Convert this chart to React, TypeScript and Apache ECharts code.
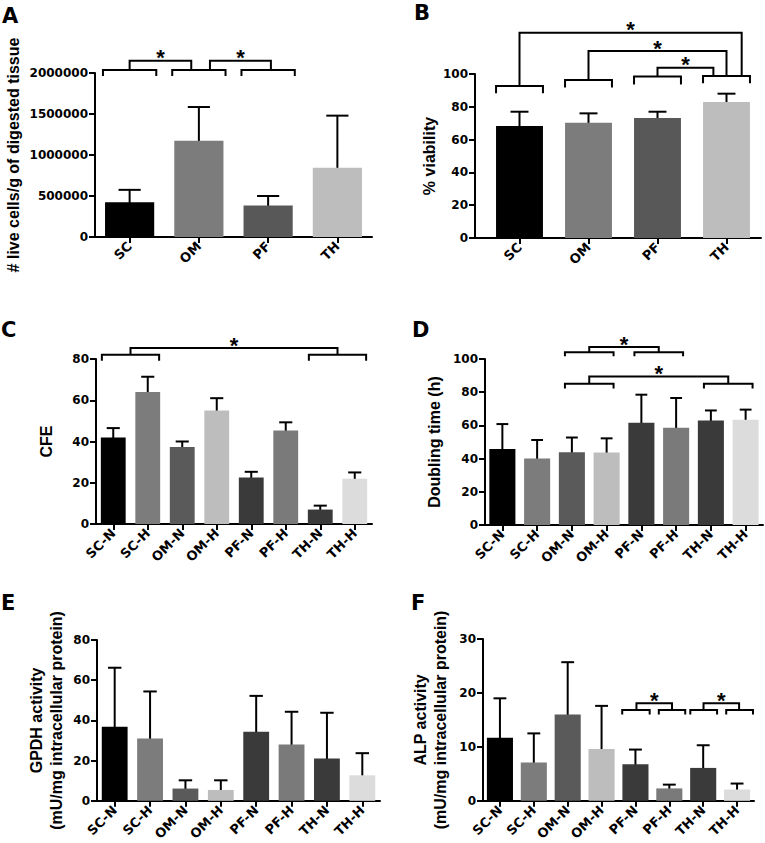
import React, { useEffect, useRef } from 'react';
import * as echarts from 'echarts';

// ---------- categories ----------
const groups4 = ['SC', 'OM', 'PF', 'TH'];
const groups8 = ['SC-N', 'SC-H', 'OM-N', 'OM-H', 'PF-N', 'PF-H', 'TH-N', 'TH-H'];

// ---------- values (mean) and upper error bar ends ----------
const aValues = [425000, 1175000, 385000, 845000];
const aErrors = [575000, 1585000, 500000, 1480000];
const bValues = [68.3, 70.2, 73.2, 83];
const bErrors = [77, 76, 77, 88];
const cValues = [42, 64, 37.3, 55, 22.6, 45.3, 7, 22];
const cErrors = [46.5, 71.4, 40, 61, 25.3, 49.3, 8.9, 25];
const dValues = [45.8, 40, 43.8, 43.6, 61.6, 58.6, 63, 63.4];
const dErrors = [60.8, 51.2, 52.7, 52.2, 78.5, 76.5, 69, 69.5];
const eValues = [36.8, 31, 6.1, 5.4, 34.3, 28, 21, 12.7];
const eErrors = [66.2, 54.4, 10.2, 10.2, 52.2, 44.3, 43.8, 23.7];
const fValues = [11.7, 7.1, 16, 9.6, 6.8, 2.3, 6.1, 2.1];
const fErrors = [19, 12.5, 25.7, 17.6, 9.5, 3.0, 10.3, 3.2];

// ---------- colours ----------
const colors4 = ['#000000', '#7c7c7c', '#585858', '#bdbdbd'];
const colors8 = ['#000000', '#7c7c7c', '#5a5a5a', '#bdbdbd', '#3a3a3a', '#7a7a7a', '#3a3a3a', '#dcdcdc'];

// ---------- axis names ----------
const aName = '# live cells/g of digested tissue';
const bName = '% viability';
const cName = 'CFE';
const dName = 'Doubling time (h)';
const eName = 'GPDH activity\n(mU/mg intracellular protein)';
const fName = 'ALP activity\n(mU/mg intracellular protein)';

// ---------- significance brackets (category units, data units) ----------
type Cap = { x1: number; x2: number; y: number; drop: number };
type Link = { x1: number; x2: number; y1: number; y2: number; top: number };

const aCaps: Cap[] = [
  { x1: -0.385, x2: 0.385, y: 2037000, drop: 74000 },
  { x1: 0.615, x2: 1.385, y: 2037000, drop: 74000 },
  { x1: 1.615, x2: 2.385, y: 2037000, drop: 74000 },
];
const aLinks: Link[] = [
  { x1: 0, x2: 0.89, y1: 2037000, y2: 2037000, top: 2150000 },
  { x1: 1.16, x2: 2.04, y1: 2037000, y2: 2037000, top: 2150000 },
];
const bCaps: Cap[] = [
  { x1: -0.34, x2: 0.34, y: 92.7, drop: 4.5 },
  { x1: 0.66, x2: 1.34, y: 96.3, drop: 4.5 },
  { x1: 1.66, x2: 2.34, y: 98.4, drop: 4.8 },
  { x1: 2.66, x2: 3.34, y: 98.8, drop: 4.5 },
];
const bLinks: Link[] = [
  { x1: 0, x2: 3.22, y1: 92.7, y2: 98.8, top: 125.2 },
  { x1: 1, x2: 3.0, y1: 96.3, y2: 98.8, top: 114 },
  { x1: 2, x2: 2.81, y1: 98.4, y2: 98.8, top: 103.8 },
];
const cCaps: Cap[] = [
  { x1: -0.33, x2: 1.33, y: 82.1, drop: 2.9 },
  { x1: 5.67, x2: 7.33, y: 82.1, drop: 2.9 },
];
const cLinks: Link[] = [{ x1: 0.5, x2: 6.5, y1: 82.1, y2: 82.1, top: 85.3 }];
const dCaps: Cap[] = [
  { x1: 1.8, x2: 3.2, y: 104, drop: 2.4 },
  { x1: 3.8, x2: 5.2, y: 104, drop: 2.4 },
  { x1: 1.8, x2: 3.2, y: 85.1, drop: 2.8 },
  { x1: 5.8, x2: 7.2, y: 85.1, drop: 2.8 },
];
const dLinks: Link[] = [
  { x1: 2.5, x2: 4.5, y1: 104, y2: 104, top: 107.2 },
  { x1: 2.5, x2: 6.5, y1: 85.1, y2: 85.1, top: 89.5 },
];
const fCaps: Cap[] = [
  { x1: 3.61, x2: 4.42, y: 16.85, drop: 0.85 },
  { x1: 4.69, x2: 5.47, y: 16.85, drop: 0.85 },
  { x1: 5.62, x2: 6.41, y: 16.85, drop: 0.85 },
  { x1: 6.68, x2: 7.47, y: 16.85, drop: 0.85 },
];
const fLinks: Link[] = [
  { x1: 4.03, x2: 5.08, y1: 16.85, y2: 16.85, top: 18.07 },
  { x1: 6.01, x2: 7.06, y1: 16.85, y2: 16.85, top: 18.07 },
];

const LABEL_FONT = 'DejaVu Sans';
const NAME_FONT = 'Liberation Sans';

interface Panel {
  letter: string;
  letterPos: [number, number];
  grid: { left: number; top: number; width: number; height: number };
  cats: string[];
  values: number[];
  errors: number[];
  colors: string[];
  max: number;
  interval: number;
  name: string;
  nameGap: number;
  barWidth: string;
  capFrac: number;
  caps: Cap[];
  links: Link[];
  axisOffset: number;
}

const panels: Panel[] = [
  {
    letter: 'A', letterPos: [2, 5], grid: { left: 95, top: 73, width: 277, height: 164 },
    cats: groups4, values: aValues, errors: aErrors, colors: colors4, max: 2000000, interval: 500000,
    name: aName, nameGap: 72, barWidth: '71%', capFrac: 0.32, caps: aCaps, links: aLinks, axisOffset: 0,
  },
  {
    letter: 'B', letterPos: [414, 2], grid: { left: 485, top: 74, width: 276, height: 164 },
    cats: groups4, values: bValues, errors: bErrors, colors: colors4, max: 100, interval: 20,
    name: bName, nameGap: 26, barWidth: '68%', capFrac: 0.26, caps: bCaps, links: bLinks, axisOffset: 10,
  },
  {
    letter: 'C', letterPos: [1, 319], grid: { left: 96, top: 359, width: 276, height: 165 },
    cats: groups8, values: cValues, errors: cErrors, colors: colors8, max: 80, interval: 20,
    name: cName, nameGap: 40, barWidth: '72%', capFrac: 0.38, caps: cCaps, links: cLinks, axisOffset: 0,
  },
  {
    letter: 'D', letterPos: [412, 319], grid: { left: 485, top: 359, width: 278, height: 166 },
    cats: groups8, values: dValues, errors: dErrors, colors: colors8, max: 100, interval: 20,
    name: dName, nameGap: 41, barWidth: '75%', capFrac: 0.34, caps: dCaps, links: dLinks, axisOffset: 0,
  },
  {
    letter: 'E', letterPos: [1, 592], grid: { left: 97, top: 640, width: 283, height: 164 },
    cats: groups8, values: eValues, errors: eErrors, colors: colors8, max: 80, interval: 20,
    name: eName, nameGap: 31, barWidth: '73%', capFrac: 0.38, caps: [], links: [], axisOffset: 0,
  },
  {
    letter: 'F', letterPos: [411, 592], grid: { left: 483, top: 639, width: 271, height: 164 },
    cats: groups8, values: fValues, errors: fErrors, colors: colors8, max: 30, interval: 10,
    name: fName, nameGap: 33, barWidth: '77%', capFrac: 0.38, caps: fCaps, links: fLinks, axisOffset: 0,
  },
];

const black = { color: '#000', width: 2 };

function buildOption(): any {
  const grid: any[] = [];
  const xAxis: any[] = [];
  const yAxis: any[] = [];
  const series: any[] = [];
  const graphic: any[] = [];

  panels.forEach((p, k) => {
    grid.push({ ...p.grid, containLabel: false });
    xAxis.push({
      type: 'category',
      gridIndex: k,
      data: p.cats,
      axisLine: { show: true, lineStyle: black },
      axisTick: { show: true, alignWithLabel: true, length: 6, lineStyle: black },
      axisLabel: {
        rotate: 45, margin: 7, interval: 0, color: '#000',
        fontFamily: LABEL_FONT, fontWeight: 'bold', fontSize: 13,
      },
      splitLine: { show: false },
    });
    yAxis.push({
      type: 'value',
      gridIndex: k,
      min: 0,
      max: p.max,
      interval: p.interval,
      offset: p.axisOffset,
      name: p.name,
      nameLocation: 'middle',
      nameRotate: 90,
      nameGap: p.nameGap,
      nameTextStyle: { fontFamily: NAME_FONT, fontWeight: 'bold', fontSize: 16, color: '#000', lineHeight: 20 },
      axisLine: { show: true, lineStyle: black },
      axisTick: { show: true, length: 6, lineStyle: black },
      axisLabel: {
        margin: 7, color: '#000', fontFamily: LABEL_FONT, fontWeight: 'bold', fontSize: 12,
        formatter: (v: number) => String(v),
      },
      splitLine: { show: false },
    });
    series.push({
      type: 'bar',
      xAxisIndex: k,
      yAxisIndex: k,
      barWidth: p.barWidth,
      silent: true,
      data: p.values.map((v, i) => ({ value: v, itemStyle: { color: p.colors[i] } })),
    });
    // error bars
    series.push({
      type: 'custom',
      xAxisIndex: k,
      yAxisIndex: k,
      clip: false,
      silent: true,
      data: p.errors.map((e, i) => [i, e]),
      renderItem: (params: any, api: any) => {
        const i = params.dataIndex;
        const p1 = api.coord([i, p.values[i]]);
        const p2 = api.coord([i, p.errors[i]]);
        const bw = api.size([1, 0])[0];
        const h = (bw * p.capFrac) / 2;
        return {
          type: 'group',
          children: [
            { type: 'line', shape: { x1: p1[0], y1: p1[1] + 3, x2: p2[0], y2: p2[1] }, style: { stroke: '#000', lineWidth: 2 } },
            { type: 'line', shape: { x1: p2[0] - h, y1: p2[1], x2: p2[0] + h, y2: p2[1] }, style: { stroke: '#000', lineWidth: 2 } },
          ],
        };
      },
    });
    if (p.caps.length) {
      series.push({
        type: 'custom',
        xAxisIndex: k,
        yAxisIndex: k,
        clip: false,
        silent: true,
        data: p.caps.map((c) => [0, c.y]),
        renderItem: (params: any, api: any) => {
          const c = p.caps[params.dataIndex];
          const base = api.coord([0, c.y]);
          const bw = api.size([1, 0])[0];
          const yd = api.coord([0, c.y - c.drop])[1];
          const x1 = base[0] + c.x1 * bw;
          const x2 = base[0] + c.x2 * bw;
          return {
            type: 'polyline',
            shape: { points: [[x1, yd], [x1, base[1]], [x2, base[1]], [x2, yd]] },
            style: { stroke: '#000', lineWidth: 2, fill: null },
          };
        },
      });
    }
    if (p.links.length) {
      series.push({
        type: 'custom',
        xAxisIndex: k,
        yAxisIndex: k,
        clip: false,
        silent: true,
        data: p.links.map((l) => [0, l.top]),
        renderItem: (params: any, api: any) => {
          const l = p.links[params.dataIndex];
          const bw = api.size([1, 0])[0];
          const x0 = api.coord([0, l.top])[0];
          const yt = api.coord([0, l.top])[1];
          const y1 = api.coord([0, l.y1])[1];
          const y2 = api.coord([0, l.y2])[1];
          const x1 = x0 + l.x1 * bw;
          const x2 = x0 + l.x2 * bw;
          return {
            type: 'group',
            children: [
              {
                type: 'polyline',
                shape: { points: [[x1, y1], [x1, yt], [x2, yt], [x2, y2]] },
                style: { stroke: '#000', lineWidth: 2, fill: null },
              },
              {
                type: 'text',
                x: (x1 + x2) / 2,
                y: yt - 3,
                style: {
                  text: '*', fill: '#000', font: `bold 22px "${NAME_FONT}"`,
                  align: 'center', verticalAlign: 'middle',
                },
              },
            ],
          };
        },
      });
    }
    graphic.push({
      type: 'text',
      x: p.letterPos[0],
      y: p.letterPos[1],
      style: { text: p.letter, fill: '#000', font: `bold 21px "${LABEL_FONT}"`, verticalAlign: 'top' },
    });
    if (p.axisOffset) {
      const yb = p.grid.top + p.grid.height;
      graphic.push({
        type: 'line',
        shape: { x1: p.grid.left - p.axisOffset - 1, y1: yb, x2: p.grid.left + 1, y2: yb },
        style: { stroke: '#000', lineWidth: 2 },
      });
    }
  });

  return {
    animation: false,
    backgroundColor: '#ffffff',
    grid,
    xAxis,
    yAxis,
    series,
    graphic,
  };
}

export default function App() {
  const ref = useRef<HTMLDivElement>(null);
  useEffect(() => {
    if (!ref.current) return;
    const chart = echarts.init(ref.current, undefined, { renderer: 'svg' });
    chart.setOption(buildOption());
    return () => chart.dispose();
  }, []);
  return (
    <div
      ref={ref}
      style={{ position: 'absolute', left: 0, top: 0, width: 765, height: 843, background: '#fff' }}
    />
  );
}
